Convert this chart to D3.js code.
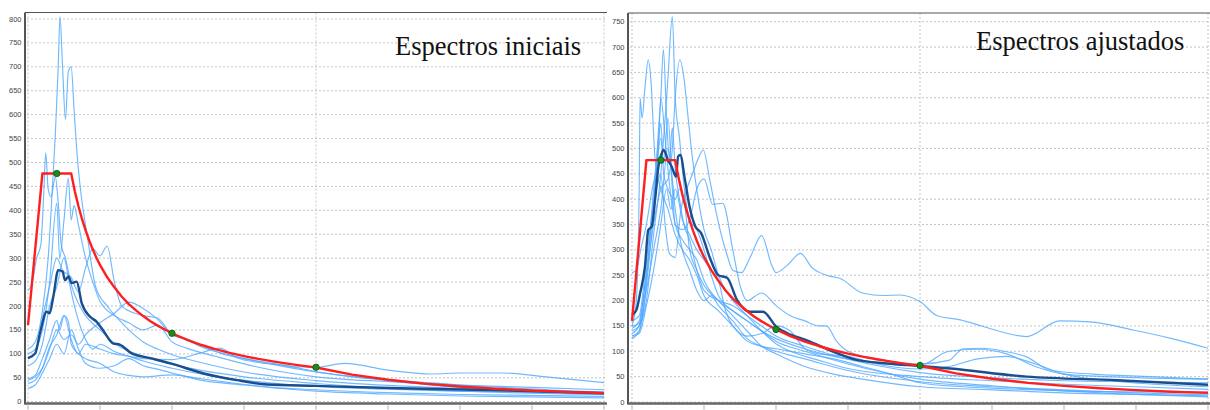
<!DOCTYPE html>
<html lang="pt">
<head>
<meta charset="UTF-8">
<title>Espectros</title>
<script src="https://d3js.org/d3.v7.min.js"></script>
<style>
 body {margin: 0; padding: 0; background: #fff;}
 svg {display: block;}
 .grid line {stroke: #c4c4c4; stroke-width: 1; stroke-dasharray: 2,2;}
 .ylab {font-family: "Liberation Sans", Arial, sans-serif; font-size: 7.5px; fill: #444; text-anchor: end;}
 .title {font-family: "Liberation Serif", "Times New Roman", serif; font-size: 26.5px; fill: #111;}
 .rec {fill: none; stroke: #4ea8ff; stroke-width: 1.15; stroke-opacity: 0.8;}
 .mean {fill: none; stroke: #1b4e8c; stroke-width: 2.4;}
 .target {fill: none; stroke: #ff1f1f; stroke-width: 2.4; stroke-linejoin: round;}
 .ctrl {fill: #1d8a1d; stroke: #0d5a0d; stroke-width: 0.8;}
</style>
</head>
<body>
<svg id="chart" width="1210" height="410"></svg>
<script>
// target spectrum (red) and its control points (green)
const targetT  = [0, 0.1, 0.3, 0.325, 0.35, 0.375, 0.4, 0.425, 0.45, 0.475, 0.5, 0.55, 0.6, 0.65, 0.7, 0.75, 0.8, 0.85, 0.9, 0.95, 1.0, 1.1, 1.2, 1.3, 1.4, 1.5, 1.6, 1.7, 1.8, 1.9, 2.0, 2.25, 2.5, 2.75, 3.0, 3.25, 3.5, 3.75, 4.0];
const targetSa = [160, 477, 477, 440, 409, 382, 358, 337, 318, 301, 286, 260, 239, 220, 204, 191, 179, 168, 159, 151, 143, 130, 119, 110, 102, 95.4, 89.4, 84.2, 79.5, 75.3, 71.5, 56.5, 45.8, 37.8, 31.8, 27.1, 23.4, 20.3, 17.9];
const ctrlT  = [0.2, 1.0, 2.0];
const ctrlSa = [477, 143, 72];

// left panel: initial records (period, Sa)
const initialRecords = [
  [[0,110],[0.05,125],[0.1,190],[0.14,300],[0.17,450],[0.19,560],[0.21,700],[0.222,805],[0.24,700],[0.26,590],[0.28,690],[0.3,700],[0.32,610],[0.34,520],[0.37,430],[0.41,350],[0.47,240],[0.55,200],[0.62,175],[0.7,150],[0.8,125],[0.9,110],[1.0,98],[1.2,82],[1.5,62],[2.0,44],[2.5,34],[3.0,28],[3.5,23],[4.0,20]],
  [[0,232],[0.03,250],[0.06,300],[0.09,330],[0.11,440],[0.123,520],[0.14,445],[0.16,428],[0.19,470],[0.21,415],[0.23,330],[0.26,300],[0.3,245],[0.35,205],[0.4,180],[0.5,150],[0.6,122],[0.8,95],[1.0,78],[1.5,52],[2.0,38],[2.5,28],[3.0,22],[4.0,15]],
  [[0,100],[0.05,110],[0.1,150],[0.15,250],[0.2,415],[0.22,300],[0.25,380],[0.28,467],[0.3,380],[0.32,410],[0.35,370],[0.4,300],[0.45,250],[0.5,210],[0.6,180],[0.7,165],[0.8,150],[0.9,160],[1.0,125],[1.1,112],[1.3,95],[1.6,72],[2.0,52],[2.5,42],[3.0,35],[3.5,30],[4.0,25]],
  [[0,90],[0.05,100],[0.1,175],[0.15,240],[0.2,300],[0.24,275],[0.3,260],[0.35,230],[0.4,280],[0.45,320],[0.5,305],[0.55,325],[0.6,250],[0.65,200],[0.7,190],[0.8,180],[0.9,175],[1.0,140],[1.1,130],[1.2,115],[1.4,98],[1.7,78],[2.0,62],[2.5,46],[3.0,35],[4.0,20]],
  [[0,45],[0.05,52],[0.1,70],[0.15,110],[0.2,150],[0.25,130],[0.3,140],[0.35,120],[0.4,140],[0.5,165],[0.6,185],[0.7,208],[0.8,195],[0.9,172],[1.0,140],[1.1,132],[1.2,118],[1.35,100],[1.5,90],[1.7,80],[1.85,73],[2.0,72],[2.2,80],[2.5,66],[2.8,58],[3.0,60],[3.3,60],[3.6,52],[4.0,40]],
  [[0,48],[0.05,55],[0.1,90],[0.15,130],[0.2,170],[0.22,150],[0.25,180],[0.3,130],[0.35,100],[0.4,120],[0.5,110],[0.6,100],[0.7,95],[0.8,90],[1.0,88],[1.2,102],[1.33,112],[1.45,92],[1.6,82],[1.8,75],[2.0,63],[2.5,44],[3.0,30],[3.5,22],[4.0,16]],
  [[0,28],[0.05,35],[0.1,60],[0.15,90],[0.2,120],[0.25,100],[0.3,150],[0.35,110],[0.4,80],[0.5,70],[0.6,75],[0.7,90],[0.8,75],[0.9,68],[1.0,60],[1.2,45],[1.5,35],[2.0,22],[2.5,16],[3.0,12],[4.0,8]],
  [[0,38],[0.05,45],[0.1,70],[0.15,115],[0.2,140],[0.25,180],[0.28,168],[0.3,120],[0.35,100],[0.4,90],[0.5,80],[0.6,62],[0.7,55],[0.8,52],[1.0,56],[1.2,48],[1.4,40],[1.7,30],[2.0,25],[2.5,19],[3.0,15],[4.0,11]],
  [[0,75],[0.05,85],[0.1,120],[0.15,200],[0.2,240],[0.25,300],[0.28,260],[0.3,230],[0.35,170],[0.4,130],[0.45,110],[0.5,120],[0.6,105],[0.7,95],[0.8,85],[1.0,70],[1.2,58],[1.5,45],[2.0,32],[2.5,26],[3.0,22],[4.0,18]]
];
const initialMean = [[0,91],[0.05,101],[0.083,143],[0.13,188],[0.15,185],[0.176,220],[0.21,275],[0.24,272],[0.257,254],[0.28,262],[0.303,248],[0.338,251],[0.373,206],[0.43,178],[0.477,167],[0.52,150],[0.59,122],[0.64,119],[0.72,101],[0.85,91],[0.99,80],[1.22,59],[1.45,45],[1.66,36],[2.0,33],[2.58,28],[3.28,24],[4.0,17.5]];

// right panel: adjusted records
const adjustedRecords = [
  [[0,140],[0.05,150],[0.1,200],[0.15,330],[0.2,450],[0.23,560],[0.25,640],[0.28,760],[0.3,600],[0.33,520],[0.36,430],[0.4,360],[0.45,340],[0.5,300],[0.55,250],[0.6,210],[0.7,180],[0.8,160],[0.9,140],[1.0,120],[1.2,100],[1.5,75],[2.0,45],[2.5,32],[3.0,22],[3.5,15],[4.0,10]],
  [[0,150],[0.03,200],[0.05,420],[0.056,600],[0.07,560],[0.09,620],[0.113,675],[0.13,640],[0.16,480],[0.2,420],[0.25,380],[0.3,330],[0.35,300],[0.4,280],[0.45,250],[0.5,210],[0.6,180],[0.7,150],[0.8,120],[0.9,110],[1.0,100],[1.2,85],[1.5,62],[2.0,40],[2.5,30],[3.0,24],[3.5,18],[4.0,14]],
  [[0,130],[0.05,140],[0.1,230],[0.15,380],[0.18,520],[0.2,600],[0.218,695],[0.24,560],[0.26,480],[0.28,540],[0.3,460],[0.33,400],[0.36,350],[0.4,320],[0.45,260],[0.5,220],[0.6,200],[0.7,190],[0.8,170],[0.9,150],[1.0,130],[1.2,110],[1.4,92],[1.7,72],[2.0,58],[2.5,48],[3.0,42],[3.5,40],[4.0,38]],
  [[0,145],[0.05,160],[0.1,250],[0.15,350],[0.2,420],[0.25,440],[0.28,500],[0.3,600],[0.333,675],[0.36,640],[0.39,560],[0.42,480],[0.46,400],[0.5,340],[0.55,300],[0.6,250],[0.65,220],[0.7,200],[0.8,170],[0.9,140],[1.0,115],[1.1,100],[1.3,82],[1.5,66],[2.0,50],[2.5,42],[3.0,35],[3.5,30],[4.0,25]],
  [[0,135],[0.05,150],[0.1,260],[0.15,380],[0.2,450],[0.23,350],[0.26,293],[0.3,285],[0.34,380],[0.38,420],[0.42,450],[0.46,480],[0.495,497],[0.54,438],[0.58,380],[0.62,330],[0.66,290],[0.7,260],[0.76,255],[0.82,285],[0.9,328],[0.97,270],[1.0,255],[1.08,270],[1.17,293],[1.25,265],[1.35,250],[1.45,243],[1.6,215],[1.75,210],[1.86,211],[2.0,198],[2.12,170],[2.28,162],[2.44,149],[2.74,129],[2.97,160],[3.18,158],[3.48,142],[3.75,125],[4.0,106]],
  [[0,160],[0.05,170],[0.1,280],[0.15,400],[0.2,520],[0.22,470],[0.25,560],[0.28,420],[0.3,350],[0.35,340],[0.4,360],[0.45,420],[0.5,440],[0.56,390],[0.63,392],[0.7,300],[0.75,230],[0.8,200],[0.9,215],[1.0,190],[1.1,170],[1.2,160],[1.3,150],[1.35,150],[1.42,120],[1.5,100],[1.7,85],[2.0,75],[2.2,82],[2.3,105],[2.44,106],[2.6,99],[2.74,89],[2.9,63],[3.2,55],[3.6,50],[4.0,45]],
  [[0,125],[0.05,140],[0.1,220],[0.15,300],[0.2,380],[0.25,500],[0.28,440],[0.3,380],[0.35,300],[0.4,260],[0.45,220],[0.5,200],[0.55,210],[0.6,190],[0.7,160],[0.8,125],[0.9,110],[1.0,105],[1.2,95],[1.4,85],[1.6,70],[1.8,55],[2.0,38],[2.3,30],[2.6,26],[3.0,22],[3.5,20],[4.0,20]],
  [[0,130],[0.05,135],[0.1,190],[0.15,260],[0.2,350],[0.24,420],[0.27,380],[0.3,420],[0.35,360],[0.4,330],[0.45,300],[0.5,280],[0.55,260],[0.6,240],[0.65,180],[0.7,150],[0.8,130],[0.9,135],[1.0,150],[1.1,140],[1.2,105],[1.3,95],[1.5,90],[1.7,75],[2.0,65],[2.2,70],[2.4,85],[2.6,90],[2.8,75],[3.0,55],[3.4,40],[4.0,30]],
  [[0,150],[0.05,155],[0.1,240],[0.15,420],[0.18,500],[0.2,550],[0.22,450],[0.25,420],[0.3,400],[0.33,420],[0.37,380],[0.4,300],[0.45,260],[0.5,230],[0.6,200],[0.7,170],[0.8,140],[0.9,110],[1.0,95],[1.2,70],[1.4,55],[1.6,45],[2.0,30],[2.5,24],[3.0,18],[3.5,15],[4.0,12]],
  [[0,255],[0.03,260],[0.06,300],[0.1,350],[0.14,420],[0.18,480],[0.2,600],[0.23,520],[0.26,430],[0.3,350],[0.35,320],[0.4,300],[0.45,280],[0.5,240],[0.6,200],[0.7,180],[0.8,160],[0.9,140],[1.0,125],[1.2,105],[1.4,90],[1.7,78],[2.0,72],[2.2,100],[2.4,104],[2.6,95],[2.8,70],[3.0,55],[3.5,48],[4.0,45]]
];
const adjustedMean = [[0,172],[0.03,181],[0.056,214],[0.09,267],[0.113,339],[0.137,346],[0.16,398],[0.183,464],[0.206,490],[0.22,497],[0.25,477],[0.276,464],[0.306,444],[0.32,484],[0.335,487],[0.368,438],[0.4,385],[0.44,346],[0.48,333],[0.54,285],[0.6,250],[0.66,245],[0.73,201],[0.82,178],[0.91,178],[1.0,149],[1.1,133],[1.21,122],[1.4,99],[1.56,83],[1.77,76],[2.0,71],[2.21,66],[2.74,50],[3.37,43],[4.0,34]];

const xTicks = [0, 0.5, 1, 1.5, 2, 2.5, 3, 3.5, 4];
const xGrid = [0, 2, 4];

const panels = [
  {title: 'Espectros iniciais', records: initialRecords, mean: initialMean, yMax: 800,
   frameL: 25, frameR: 607, top: 12.5, bottom: 403.5, xr: [28, 604], yr: [401.7, 19], titleX: 395, titleY: 55},
  {title: 'Espectros ajustados', records: adjustedRecords, mean: adjustedMean, yMax: 750,
   frameL: 628, frameR: 1210, top: 13, bottom: 403.5, xr: [632, 1208], yr: [402, 21.7], titleX: 976, titleY: 50}
];

const svg = d3.select('#chart');
const target = targetT.map((t, i) => [t, targetSa[i]]);

panels.forEach(p => {
  const x = d3.scaleLinear().domain([0, 4]).range(p.xr);
  const y = d3.scaleLinear().domain([0, p.yMax]).range(p.yr);
  const g = svg.append('g');

  const grid = g.append('g').attr('class', 'grid');
  grid.selectAll('.h').data(d3.range(0, p.yMax + 1, 50)).enter().append('line')
    .attr('x1', p.frameL + 2).attr('x2', p.frameR)
    .attr('y1', d => y(d)).attr('y2', d => y(d));
  grid.selectAll('.v').data(xGrid).enter().append('line')
    .attr('x1', d => x(d)).attr('x2', d => x(d))
    .attr('y1', p.top).attr('y2', p.bottom);

  g.selectAll('.ylab').data(d3.range(0, p.yMax + 1, 50)).enter().append('text')
    .attr('class', 'ylab')
    .attr('x', p.frameL - 3.5).attr('y', d => y(d) + 2.5)
    .text(d => d);

  const line = d3.line().x(d => x(d[0])).y(d => y(d[1])).curve(d3.curveMonotoneX);

  g.selectAll('.rec').data(p.records).enter().append('path')
    .attr('class', 'rec').attr('d', line);
  g.append('path').attr('class', 'mean').attr('d', line(p.mean));
  g.append('path').attr('class', 'target')
    .attr('d', d3.line().x(d => x(d[0])).y(d => y(d[1]))(target));
  g.selectAll('.ctrl').data(ctrlT).enter().append('circle')
    .attr('class', 'ctrl').attr('r', 3.2)
    .attr('cx', d => x(d)).attr('cy', (d, i) => y(ctrlSa[i]));

  // frame: top, left, bottom
  g.append('line').attr('x1', p.frameL).attr('x2', p.frameR).attr('y1', p.top).attr('y2', p.top)
    .attr('stroke', '#555').attr('stroke-width', 1.2);
  g.append('line').attr('x1', p.frameL).attr('x2', p.frameL).attr('y1', p.top).attr('y2', p.bottom + 1)
    .attr('stroke', '#555').attr('stroke-width', 2);
  g.append('line').attr('x1', p.frameL).attr('x2', p.frameR).attr('y1', p.bottom).attr('y2', p.bottom)
    .attr('stroke', '#666').attr('stroke-width', 2.5);
  g.selectAll('.xt').data(xTicks).enter().append('line')
    .attr('x1', d => x(d)).attr('x2', d => x(d))
    .attr('y1', p.bottom + 2).attr('y2', p.bottom + 6)
    .attr('stroke', '#aaa').attr('stroke-width', 1);

  g.append('text').attr('class', 'title')
    .attr('x', p.titleX).attr('y', p.titleY).text(p.title);
});
</script>
</body>
</html>
